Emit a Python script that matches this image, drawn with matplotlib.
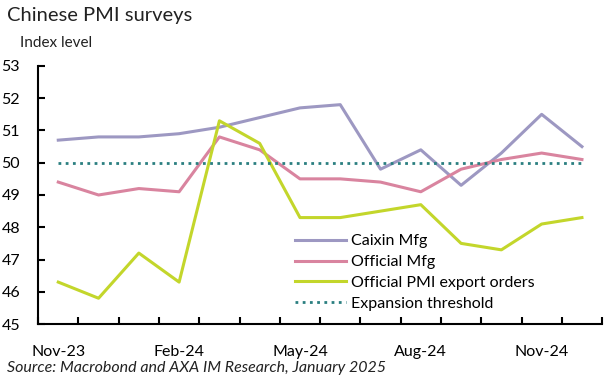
import numpy as np
import matplotlib.pyplot as plt

months = ['Nov-23', 'Dec-23', 'Jan-24', 'Feb-24', 'Mar-24', 'Apr-24', 'May-24',
          'Jun-24', 'Jul-24', 'Aug-24', 'Sep-24', 'Oct-24', 'Nov-24', 'Dec-24']
caixin = [50.7, 50.8, 50.8, 50.9, 51.1, 51.4, 51.7, 51.8, 49.8, 50.4, 49.3, 50.3, 51.5, 50.5]
official = [49.4, 49.0, 49.2, 49.1, 50.8, 50.4, 49.5, 49.5, 49.4, 49.1, 49.8, 50.1, 50.3, 50.1]
export_orders = [46.3, 45.8, 47.2, 46.3, 51.3, 50.6, 48.3, 48.3, 48.5, 48.7, 47.5, 47.3, 48.1, 48.3]
threshold = [50.0] * len(months)

plt.rcParams['font.family'] = ['Lato', 'DejaVu Sans']

fig = plt.figure(figsize=(6.15, 3.79), dpi=100)
ax = fig.add_axes([0.062, 0.145, 0.917, 0.681])

x = np.arange(len(months))
ax.plot(x, caixin, color='#9d98c2', lw=2.2, label='Caixin Mfg')
ax.plot(x, official, color='#d9849f', lw=2.2, label='Official Mfg')
ax.plot(x, export_orders, color='#c3d62b', lw=2.2, label='Official PMI export orders')
ax.plot(x, threshold, color='#2a7f80', lw=2, ls=(0, (1, 1.6)), label='Expansion threshold')

ax.set_xlim(-0.5, len(months) - 0.5)
ax.set_ylim(45, 53)
ax.set_yticks(range(45, 54))
# boundary ticks between months, labels centred on every third month
ax.set_xticks(np.arange(-0.5, len(months), 1))
ax.set_xticklabels([])
ax.set_xticks(x[::3], minor=True)
ax.set_xticklabels([months[i] for i in range(0, len(months), 3)], minor=True)
ax.tick_params(axis='x', which='major', direction='in', length=5, width=1.5)
ax.tick_params(axis='x', which='minor', length=0, pad=15, labelsize=11.5)
ax.tick_params(axis='y', direction='in', length=5, width=1.5, pad=13, labelsize=11.5)

for s in ['top', 'right']:
    ax.spines[s].set_visible(False)
for s in ['left', 'bottom']:
    ax.spines[s].set_linewidth(1.5)

ax.legend(loc='lower left', bbox_to_anchor=(0.43, -0.005), frameon=False,
          fontsize=11.5, handlelength=3.2, handletextpad=0.3, labelspacing=0.42)

fig.text(0.011, 0.945, 'Chinese PMI surveys', fontsize=14.5, color='#222222')
fig.text(0.033, 0.875, 'Index level', fontsize=11, color='#222222')
fig.text(0.011, 0.018, 'Source: Macrobond and AXA IM Research, January 2025',
         fontsize=11.5, style='italic', color='#222222')

fig.savefig('out.png', dpi=100)
